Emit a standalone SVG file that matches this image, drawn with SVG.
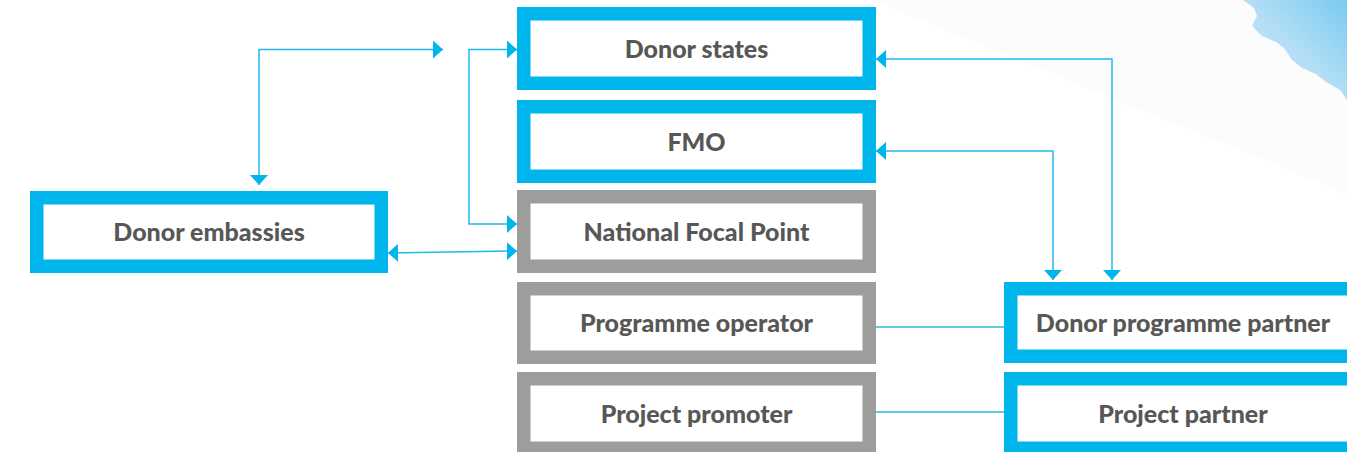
<svg xmlns="http://www.w3.org/2000/svg" width="1347" height="452" viewBox="0 0 1347 452">
  <defs>
    <style>
      .blue { fill: #ffffff; stroke: #00b5ec; stroke-width: 13.5; }
      .gray { fill: #ffffff; stroke: #9d9d9c; stroke-width: 13.5; }
      .lbl { font-family: Lato, "Open Sans", sans-serif; font-weight: 900; font-size: 25px; fill: #575756; text-anchor: middle; }
      .conn { fill: none; stroke: #22b8ec; stroke-width: 1.5; }
      .link { fill: none; stroke: #2dbad6; stroke-width: 1.5; }
    </style>
    <marker id="arr" markerUnits="userSpaceOnUse" markerWidth="10" markerHeight="18" refX="10" refY="9" orient="auto-start-reverse" viewBox="0 0 10 18">
      <path d="M0,0 L10,9 L0,18 Z" fill="#00b5ec"/>
    </marker>
    <linearGradient id="cloud" x1="0" y1="1" x2="1" y2="0">
      <stop offset="0" stop-color="#cbe9fa"/>
      <stop offset="0.5" stop-color="#b4def6"/>
      <stop offset="1" stop-color="#79cbf1"/>
    </linearGradient>
  </defs>

  <rect x="0" y="0" width="1347" height="452" fill="#ffffff"/>
  <polygon points="872,0 1347,0 1347,194" fill="#fcfcfc"/>
  <path d="M1243,0 L1254,8 L1257,16 L1252,26 L1262,36 L1276,42 L1284,48 L1292,60 L1302,68 L1316,74 L1326,82 L1340,90 L1347,100 L1347,0 Z" fill="url(#cloud)"/>

  <g id="connectors">
    <path class="conn" d="M259,185 V49.5 H443" marker-start="url(#arr)" marker-end="url(#arr)"/>
    <path class="conn" d="M517,49.5 H469 V224 H517" marker-start="url(#arr)" marker-end="url(#arr)"/>
    <path class="conn" d="M388,253 L517,251" marker-start="url(#arr)" marker-end="url(#arr)"/>
    <path class="conn" d="M876,59 H1112 V280" marker-start="url(#arr)" marker-end="url(#arr)"/>
    <path class="conn" d="M876,151 H1053 V280" marker-start="url(#arr)" marker-end="url(#arr)"/>
    <path class="link" d="M876,327 H1004"/>
    <path class="link" d="M876,412 H1004"/>
  </g>

  <g id="donor-states">
    <rect class="blue" x="523.75" y="13.75" width="345.5" height="69.5"/>
    <text class="lbl" x="696.5" y="57.5">Donor states</text>
  </g>
  <g id="fmo">
    <rect class="blue" x="523.75" y="106.75" width="345.5" height="69.5"/>
    <text class="lbl" x="696.5" y="150.5">FMO</text>
  </g>
  <g id="national-focal-point">
    <rect class="gray" x="523.75" y="196.75" width="345.5" height="69.5"/>
    <text class="lbl" x="696.5" y="240.5">National Focal Point</text>
  </g>
  <g id="programme-operator">
    <rect class="gray" x="523.75" y="288.75" width="345.5" height="68.5"/>
    <text class="lbl" x="696.5" y="331.5">Programme operator</text>
  </g>
  <g id="project-promoter">
    <rect class="gray" x="523.75" y="378.75" width="345.5" height="69.5"/>
    <text class="lbl" x="696.5" y="422.5">Project promoter</text>
  </g>
  <g id="donor-embassies">
    <rect class="blue" x="36.75" y="197.75" width="344.5" height="68.5"/>
    <text class="lbl" x="209" y="240.5">Donor embassies</text>
  </g>
  <g id="donor-programme-partner">
    <rect class="blue" x="1010.75" y="288.75" width="344.5" height="67.5"/>
    <text class="lbl" x="1183" y="331.5">Donor programme partner</text>
  </g>
  <g id="project-partner">
    <rect class="blue" x="1010.75" y="378.75" width="344.5" height="69.5"/>
    <text class="lbl" x="1183" y="422.5">Project partner</text>
  </g>
</svg>
